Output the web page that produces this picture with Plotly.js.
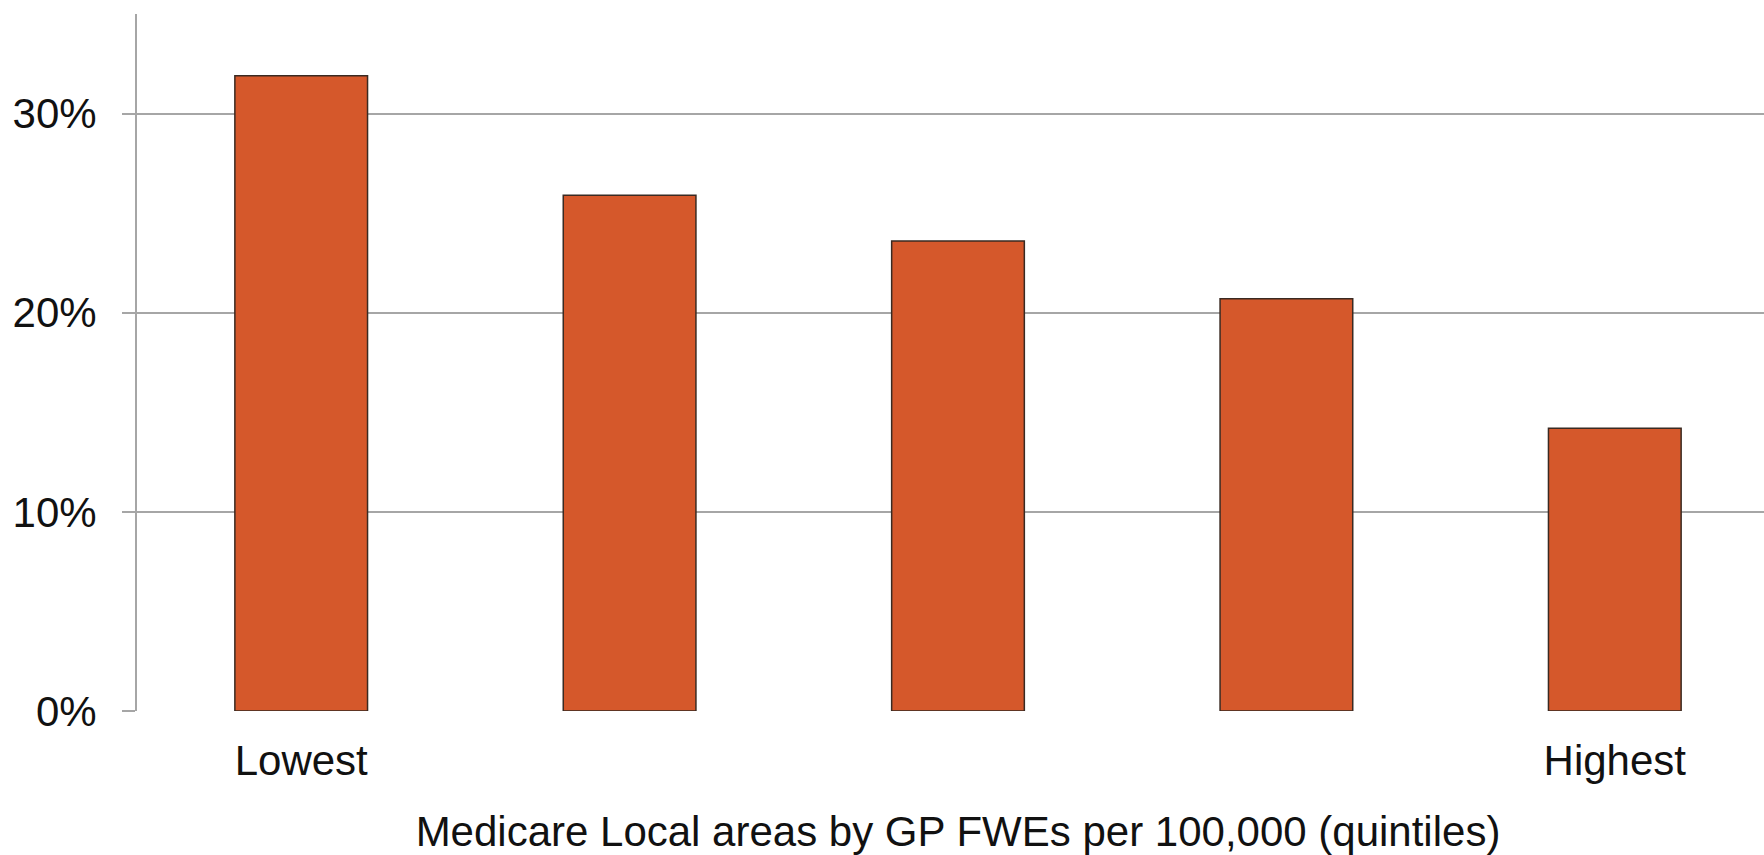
<!DOCTYPE html>
<html>
<head>
<meta charset="utf-8">
<script src="https://cdn.plot.ly/plotly-3.0.1.min.js"></script>
<style>
  html, body { margin: 0; padding: 0; background: #ffffff; overflow: hidden; width: 1764px; height: 855px; }
  #chart { width: 1779px; height: 855px; }
</style>
</head>
<body>
<div id="chart"></div>
<script>
// Data
const categories = ["Lowest", "2nd", "3rd", "4th", "Highest"];
const values = [31.9, 25.9, 23.6, 20.7, 14.2];
const yTickVals = [0, 10, 20, 30];
const yTickText = ["0%", "10%", "20%", "30%"];
const xTickVals = ["Lowest", "Highest"];
const xTickText = ["Lowest", "Highest"];
const xTitle = "Medicare Local areas by GP FWEs per 100,000 (quintiles)";

const trace = {
  type: "bar",
  x: categories,
  y: values,
  marker: { color: "#D5582B", line: { color: "#3a2a22", width: 1.5 } },
  hoverinfo: "skip"
};

const layout = {
  width: 1779,
  height: 855,
  margin: { l: 137, r: 0, t: 14, b: 144, pad: 0 },
  paper_bgcolor: "#ffffff",
  plot_bgcolor: "#ffffff",
  showlegend: false,
  bargap: 0.596,
  font: { family: "Liberation Sans, Arial, sans-serif", color: "#111111" },
  xaxis: {
    type: "category",
    range: [-0.5, 4.5],
    tickmode: "array",
    tickvals: xTickVals,
    ticktext: xTickText,
    showgrid: false,
    zeroline: false,
    showline: false,
    ticks: "",
    ticklabelstandoff: 21,
    tickfont: { size: 42, color: "#111111" },
    title: { text: xTitle, font: { size: 42, color: "#111111" }, standoff: 35 },
    automargin: false,
    fixedrange: true
  },
  yaxis: {
    range: [0, 35],
    tickmode: "array",
    tickvals: yTickVals,
    ticktext: yTickText,
    showgrid: true,
    gridcolor: "#a6a6a6",
    gridwidth: 2,
    zeroline: false,
    showline: true,
    linecolor: "#a6a6a6",
    linewidth: 2,
    ticks: "outside",
    ticklen: 13,
    tickwidth: 2,
    tickcolor: "#a6a6a6",
    ticklabelstandoff: 17,
    tickfont: { size: 42, color: "#111111" },
    automargin: false,
    fixedrange: true
  }
};

Plotly.newPlot("chart", [trace], layout, { displayModeBar: false, staticPlot: true });
</script>
</body>
</html>
